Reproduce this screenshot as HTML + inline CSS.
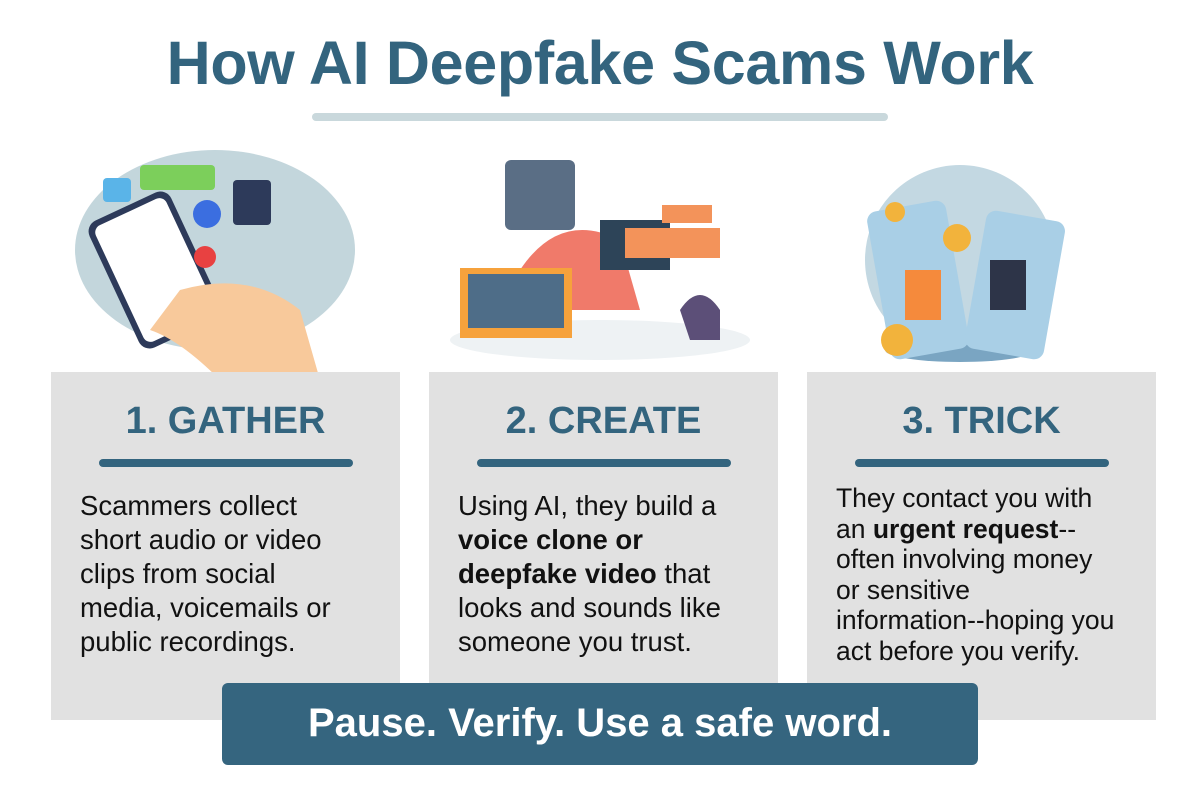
<!DOCTYPE html>
<html><head><meta charset="utf-8"><style>
body{margin:0;width:1200px;height:800px;background:#fff;position:relative;overflow:hidden;font-family:"Liberation Sans",sans-serif}
.t{position:absolute;left:0;width:1200px;top:28px;text-align:center;font-size:61px;font-weight:bold;color:#33647e;letter-spacing:-0.3px}
.p{position:absolute;top:372px;width:349px;height:348px;background:#e1e1e1}
.p h2{margin:0;position:absolute;top:28px;width:100%;text-align:center;font-size:38px;color:#33647e}
.p .u{position:absolute;top:87px;left:48px;width:254px;height:8px;background:#33647e;border-radius:4px}
.p .x{position:absolute;left:29px;top:117px;width:320px;font-size:27.5px;line-height:34px;color:#111;white-space:nowrap}
.b{position:absolute;left:222px;top:683px;width:756px;height:82px;background:#35657f;border-radius:6px;color:#fff;font-weight:bold;font-size:40px;text-align:center;line-height:80px}
</style></head><body>
<div class="t">How AI Deepfake Scams Work</div>
<div style="position:absolute;left:312px;top:113px;width:576px;height:8px;background:#c9d8dc;border-radius:4px"></div>
<svg style="position:absolute;left:0;top:140px" width="1200" height="240">
<ellipse cx="215" cy="110" rx="140" ry="100" fill="#c3d6dc"/>
<rect x="110" y="60" width="90" height="140" rx="12" fill="#2d3a5a" transform="rotate(-25 155 130)"/>
<rect x="116" y="66" width="78" height="128" rx="8" fill="#fff" transform="rotate(-25 155 130)"/>
<path d="M180 150 Q250 130 300 170 L320 240 L220 240 Q180 200 150 190Z" fill="#f8c99b"/>
<rect x="140" y="25" width="75" height="25" rx="4" fill="#7ccf5b"/>
<rect x="233" y="40" width="38" height="45" rx="4" fill="#2d3a5a"/>
<circle cx="207" cy="74" r="14" fill="#3b6ee0"/>
<circle cx="205" cy="117" r="11" fill="#e84141"/>
<rect x="103" y="38" width="28" height="24" rx="4" fill="#5ab4e8"/>
<ellipse cx="600" cy="200" rx="150" ry="20" fill="#eef2f4"/>
<path d="M520 130 Q560 70 620 100 L640 170 L520 170Z" fill="#f07a6a"/>
<rect x="505" y="20" width="70" height="70" rx="6" fill="#5a6e85"/>
<rect x="600" y="80" width="70" height="50" fill="#2d4458"/>
<rect x="460" y="128" width="112" height="70" fill="#f6a23c"/>
<rect x="468" y="134" width="96" height="54" fill="#4e6d88"/>
<rect x="625" y="88" width="95" height="30" fill="#f3935a"/>
<rect x="662" y="65" width="50" height="18" fill="#f3935a"/>
<path d="M680 170 Q700 140 720 170 L720 200 L690 200Z" fill="#5c4f78"/>
<circle cx="960" cy="120" r="95" fill="#c3d8e2"/>
<ellipse cx="960" cy="210" rx="75" ry="12" fill="#7aa5c2"/>
<rect x="878" y="65" width="80" height="150" rx="10" fill="#a9cfe6" transform="rotate(-10 918 140)"/>
<rect x="975" y="75" width="80" height="140" rx="10" fill="#a9cfe6" transform="rotate(10 1015 145)"/>
<rect x="905" y="130" width="36" height="50" fill="#f58a3c"/>
<rect x="990" y="120" width="36" height="50" fill="#2d3448"/>
<circle cx="957" cy="98" r="14" fill="#f2b33c"/>
<circle cx="897" cy="200" r="16" fill="#f2b33c"/>
<circle cx="895" cy="72" r="10" fill="#f2b33c"/>
</svg>
<div class="p" style="left:51px"><h2>1. GATHER</h2><div class="u"></div><div class="x">Scammers collect<br>short audio or video<br>clips from social<br>media, voicemails or<br>public recordings.</div></div>
<div class="p" style="left:429px"><h2>2. CREATE</h2><div class="u"></div><div class="x">Using AI, they build a<br><b>voice clone or</b><br><b>deepfake video</b> that<br>looks and sounds like<br>someone you trust.</div></div>
<div class="p" style="left:807px"><h2>3. TRICK</h2><div class="u"></div><div class="x" style="top:111px;line-height:30.5px;font-size:26.5px">They contact you with<br>an <b>urgent request</b>--<br>often involving money<br>or sensitive<br>information--hoping you<br>act before you verify.</div></div>
<div class="b">Pause. Verify. Use a safe word.</div>
</body></html>
